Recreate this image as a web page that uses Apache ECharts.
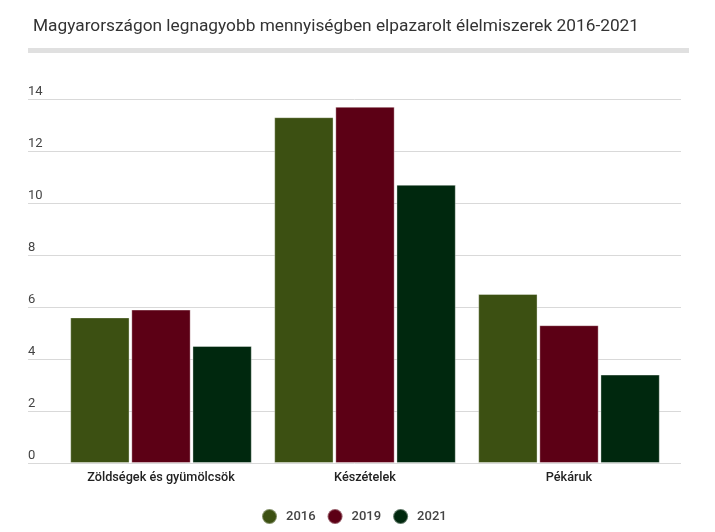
<!DOCTYPE html>
<html><head><meta charset="utf-8">
<script src="https://cdn.jsdelivr.net/npm/echarts@6/dist/echarts.min.js"></script>
<style>html,body{margin:0;padding:0;background:#fff}#c{width:715px;height:532px}</style>
</head><body><div id="c"></div>
<script>
const categories = ["Zöldségek és gyümölcsök", "Készételek", "Pékáruk"];
const seriesNames = ["2016", "2019", "2021"];
const values2016 = [5.6, 13.3, 6.5];
const values2019 = [5.9, 13.7, 5.3];
const values2021 = [4.5, 10.7, 3.4];
const yTicks = [0, 2, 4, 6, 8, 10, 12, 14];
const colors = ["#3c5012", "#5c0015", "#00280e"];

const chart = echarts.init(document.getElementById('c'), null, {renderer: 'canvas'});
const font = 'Roboto';
const data = [values2016, values2019, values2021];
chart.setOption({
  animation: false,
  color: colors,
  title: {
    text: 'Magyarországon legnagyobb mennyiségben elpazarolt élelmiszerek 2016-2021',
    left: 28, top: 13,
    textStyle: {fontFamily: font, fontSize: 17.3, fontWeight: 'normal', color: '#333'}
  },
  graphic: [{type: 'rect', shape: {x: 28, y: 48, width: 661, height: 5}, style: {fill: '#e0e0e0'}}],
  legend: {
    bottom: 2, left: 256, icon: 'circle', itemWidth: 15, itemHeight: 15, itemGap: 11,
    textStyle: {fontFamily: font, fontSize: 13, fontWeight: 500, color: '#444', padding: [0, 0, 0, 4]},
    data: seriesNames
  },
  grid: [
    {left: 28, right: 34, top: 99, bottom: 69},
    {left: 59, right: 44, top: 99, bottom: 69}
  ],
  xAxis: [
    {gridIndex: 0, type: 'value', show: false, min: 0, max: 1},
    {gridIndex: 1, type: 'category', data: categories,
     axisLine: {show: false}, axisTick: {show: false},
     axisLabel: {fontFamily: font, fontSize: 12.7, fontWeight: 500, color: '#222', margin: 8}}
  ],
  yAxis: [
    {gridIndex: 0, type: 'value', min: 0, max: 14, interval: 2,
     axisLine: {show: false}, axisTick: {show: false},
     splitLine: {lineStyle: {color: '#d9d9d9', width: 1}},
     axisLabel: {inside: true, margin: 0, verticalAlign: 'bottom', padding: [0, 0, 1, 0],
       fontFamily: font, fontSize: 13, color: '#444',
       formatter: v => yTicks.includes(v) ? String(v) : ''}},
    {gridIndex: 1, type: 'value', min: 0, max: 14, interval: 2, show: false, splitLine: {show: false}}
  ],
  series: seriesNames.map((n, i) => ({
    name: n, type: 'bar', xAxisIndex: 1, yAxisIndex: 1, data: data[i],
    barCategoryGap: '11%', barGap: '3%',
    itemStyle: {color: colors[i], borderColor: 'rgba(255,255,255,0.35)', borderWidth: 1}
  }))
});
</script></body></html>
